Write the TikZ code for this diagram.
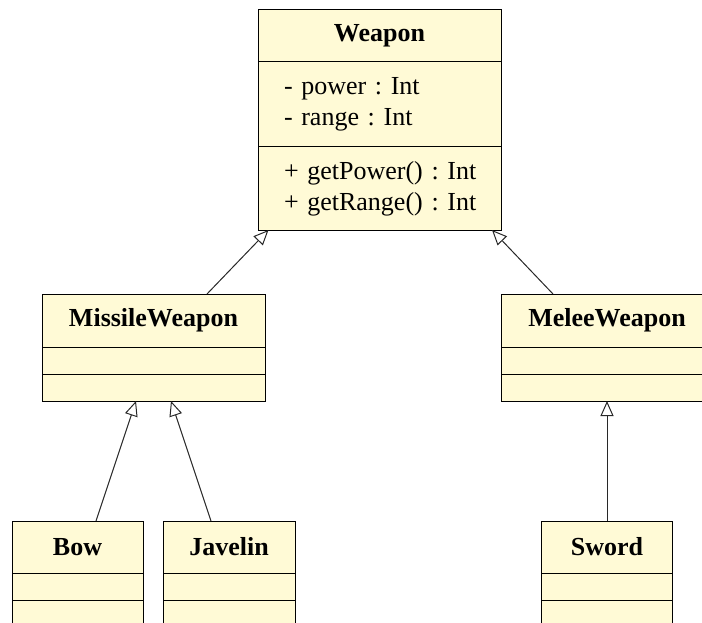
\documentclass[tikz,border=0pt]{standalone}
\usepackage{fontspec}
\setmainfont{Liberation Serif}
\usetikzlibrary{positioning,arrows.meta,calc}
\definecolor{classfill}{RGB}{255,250,214}
\definecolor{edgegray}{RGB}{40,40,40}

\begin{document}
\begin{tikzpicture}[x=1pt, y=-1pt,
  classbox/.style={draw=black, fill=classfill, line width=1pt, outer sep=0pt, inner sep=0pt},
  classtitle/.style={classbox, font=\fontsize{26}{31}\selectfont\bfseries, minimum height=52pt},
  classpart/.style={classbox, minimum height=27pt},
  memberlist/.style={classbox, font=\fontsize{26}{31}\selectfont\frenchspacing, align=left, text width=191pt, inner xsep=26pt},
  inherit/.style={draw=edgegray, line width=1pt, -{Triangle[open, length=15pt, width=13pt]}}]

  \useasboundingbox (0,0) rectangle (702,623);
  \clip (0,0) rectangle (702,623);

  % Weapon (base class)
  \node (weaponT) at (379.5, 36) [classtitle, minimum width=243pt] {Weapon};
  \node (weaponA) [memberlist, minimum height=85pt, below=0pt of weaponT] {\mbox{- power : Int}\\\mbox{- range : Int}};
  \node (weaponM) [memberlist, minimum height=83pt, below=0pt of weaponA] {\mbox{+ getPower() : Int}\\\mbox{+ getRange() : Int}};

  % MissileWeapon
  \node (missileT) at (153.5, 320.5) [classtitle, minimum width=223pt, minimum height=53pt] {MissileWeapon};
  \node (missileA) [classpart, minimum width=223pt, below=0pt of missileT] {};
  \node (missileM) [classpart, minimum width=223pt, below=0pt of missileA] {};

  % MeleeWeapon
  \node (meleeT) at (607, 320.5) [classtitle, minimum width=212pt, minimum height=53pt] {MeleeWeapon};
  \node (meleeA) [classpart, minimum width=212pt, below=0pt of meleeT] {};
  \node (meleeM) [classpart, minimum width=212pt, below=0pt of meleeA] {};

  % Bow
  \node (bowT) at (77.5, 547) [classtitle, minimum width=131pt] {Bow};
  \node (bowA) [classpart, minimum width=131pt, below=0pt of bowT] {};
  \node (bowM) [classpart, minimum width=131pt, below=0pt of bowA] {};

  % Javelin
  \node (javelinT) at (229, 547) [classtitle, minimum width=132pt] {Javelin};
  \node (javelinA) [classpart, minimum width=132pt, below=0pt of javelinT] {};
  \node (javelinM) [classpart, minimum width=132pt, below=0pt of javelinA] {};

  % Sword
  \node (swordT) at (607, 547) [classtitle, minimum width=131pt] {Sword};
  \node (swordA) [classpart, minimum width=131pt, below=0pt of swordT] {};
  \node (swordM) [classpart, minimum width=131pt, below=0pt of swordA] {};

  % Generalisation arrows
  \draw[inherit] ($(missileT.north)+(53.5,0)$) -- ($(weaponM.south)+(-111,0)$);
  \draw[inherit] ($(meleeT.north)+(-54,0)$) -- ($(weaponM.south)+(112.5,0)$);
  \draw[inherit] ($(bowT.north)+(18.5,0)$) -- ($(missileM.south)+(-17.5,0)$);
  \draw[inherit] ($(javelinT.north)+(-18,0)$) -- ($(missileM.south)+(17.5,0)$);
  \draw[inherit] (swordT.north) -- (meleeM.south);

\end{tikzpicture}
\end{document}
